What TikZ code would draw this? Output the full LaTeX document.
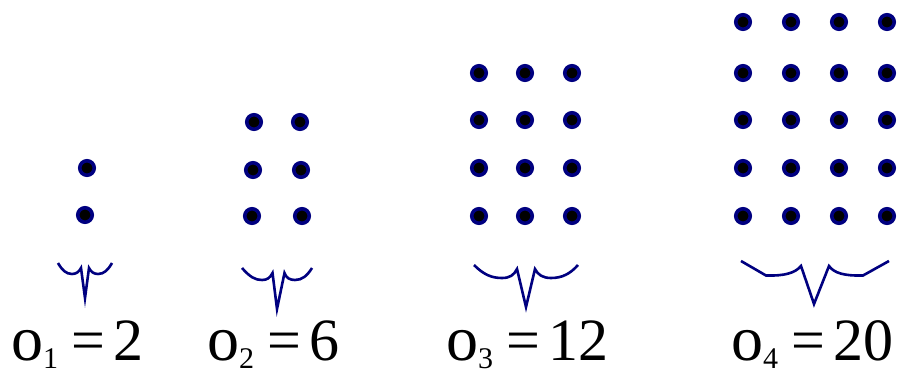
\documentclass[tikz,border=0pt]{standalone}
\usepackage{fontspec}
\setmainfont{Liberation Serif}
\definecolor{dotblue}{RGB}{0,0,128}
\tikzset{
  dot/.style={circle, draw=dotblue, fill=black, line width=3.6pt, minimum size=14.5pt, inner sep=0pt},
  bracepath/.style={draw=dotblue, line width=2.6pt, line join=miter},
  lab/.style={anchor=base west, inner sep=0pt, font=\fontsize{60}{62}\selectfont}
}
\newcommand{\osub}[2]{{\fontsize{64}{64}\selectfont o}\raisebox{-8pt}{\fontsize{30}{30}\selectfont #1}\hspace{13pt}=\hspace{8pt}#2}
\begin{document}
\begin{tikzpicture}[x=1pt,y=-1pt]
\useasboundingbox (0,0) rectangle (899,371);
\fill[white] (0,0) rectangle (899,371);
% group 1
\foreach \x/\y/\n in {87/168/a1, 85/215/a2}
  \node[dot] (\n) at (\x,\y) {};
% group 2
\foreach \x/\y/\n in {254/122/b1, 300/122/b2, 253/170/b3, 301/170/b4, 252/216/b5, 302/216/b6}
  \node[dot] (\n) at (\x,\y) {};
% group 3
\foreach \y/\r in {73/1,120/2,168/3,216/4}
  \foreach \x/\c in {479/1,525/2,572/3}
    \node[dot] (c\r\c) at (\x,\y) {};
% group 4
\foreach \y/\r in {22/1,73/2,120/3,168/4,216/5}
  \foreach \x/\c in {743/1,791/2,839/3,887/4}
    \node[dot] (d\r\c) at (\x,\y) {};
% braces
\draw[bracepath] (58,263) .. controls (62,270) and (66,274) .. (72,274) .. controls (76,274) and (79,272) .. (81,268) -- (85,298) -- (89,268) .. controls (91,272) and (94,274) .. (98,274) .. controls (104,274) and (108,270) .. (112,263);
\draw[bracepath] (242,268) .. controls (250,277) and (255,280) .. (262,280) .. controls (267,280) and (270,278) .. (272.5,273) -- (277,309) -- (284.5,273) .. controls (286,278) and (290,280) .. (295,280) .. controls (302,280) and (307,276) .. (312,268);
\draw[bracepath] (474,265) .. controls (484,275) and (492,278) .. (502,278) .. controls (510,278) and (514,275) .. (517,269) -- (526,307) -- (535,269) .. controls (538,275) and (543,278) .. (551,278) .. controls (562,278) and (570,274) .. (578,265);
\draw[bracepath] (741,261) -- (766,275.5) .. controls (785,276) and (795,273) .. (801,266) -- (814,304) -- (829,266) .. controls (834,273) and (844,276) .. (863,275.5) -- (889,261);
% labels
\node[lab] (l1) at (11,360) {\osub{1}{2}};
\node[lab] (l2) at (207,360) {\osub{2}{6}};
\node[lab] (l3) at (446,360) {\osub{3}{12}};
\node[lab] (l4) at (731,360) {\osub{4}{20}};
\end{tikzpicture}
\end{document}
